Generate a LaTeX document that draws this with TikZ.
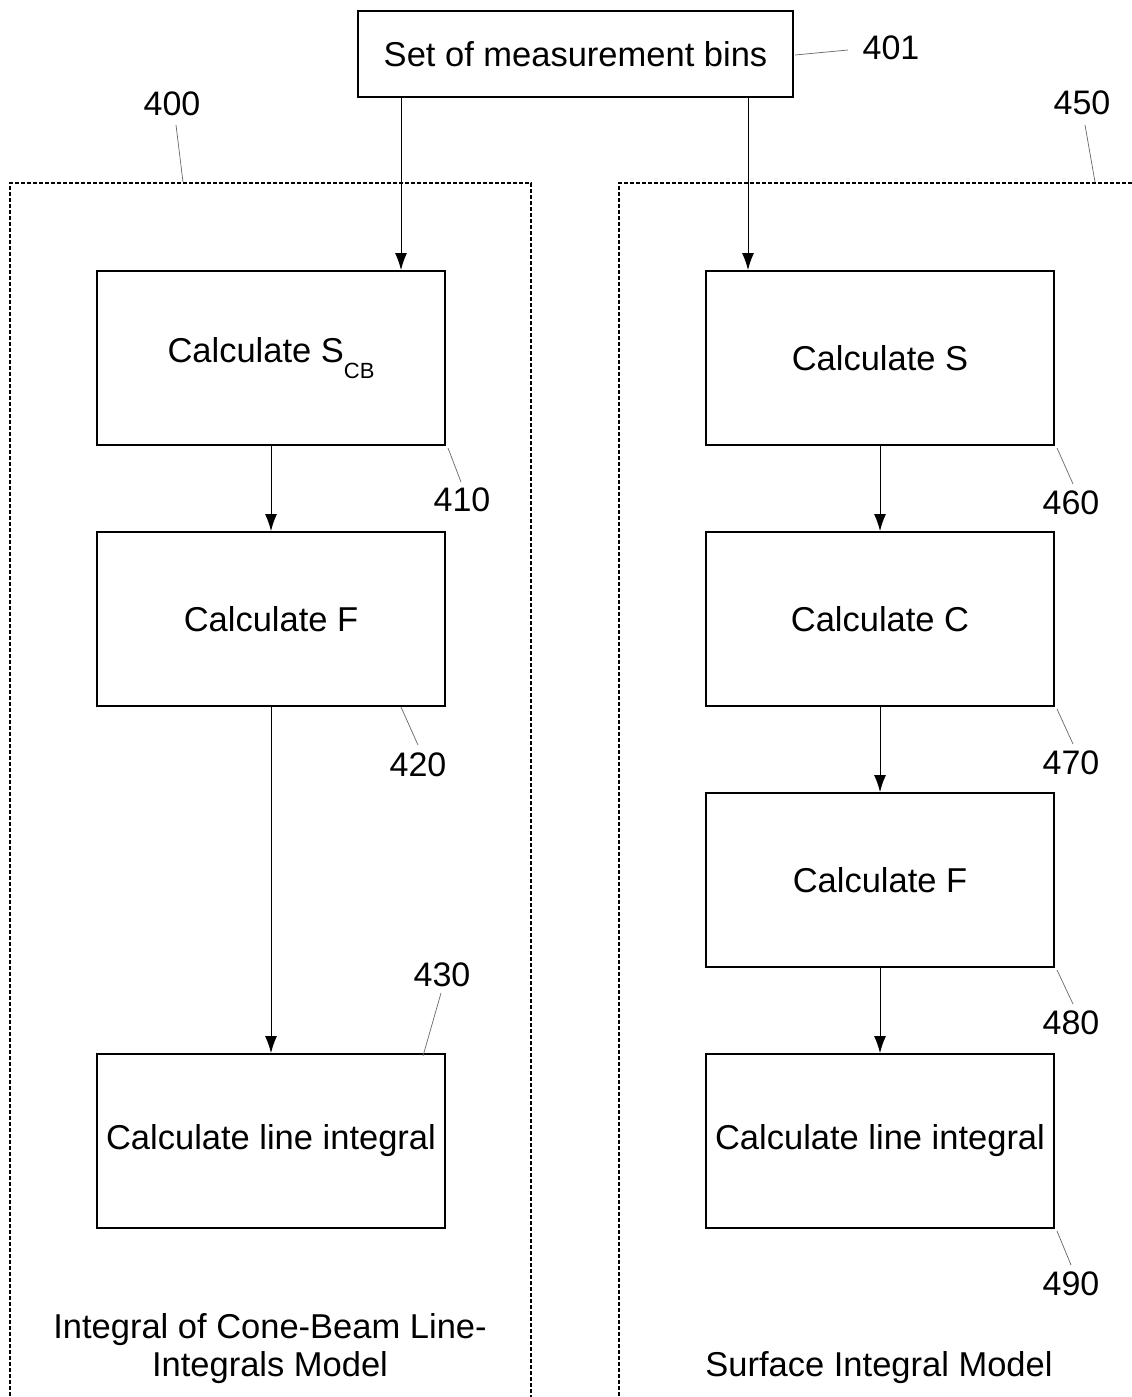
\documentclass[tikz,border=0pt]{standalone}
\usepackage{fontspec}
\setmainfont{Liberation Sans}
\usetikzlibrary{arrows.meta}
\begin{document}
\begin{tikzpicture}[x=1pt,y=-1pt,
  box/.style={draw,line width=2pt,minimum width=348pt,minimum height=174pt,anchor=north west,inner sep=0pt,font=\fontsize{34.5}{41}\selectfont},
  lbl/.style={font=\fontsize{34}{40}\selectfont,inner sep=0pt},
  flow/.style={line width=0.9pt,-{Latex[length=17pt,width=12pt]}},
  leader/.style={line width=0.7pt,draw=black!60},
  grp/.style={line width=1.8pt,dash pattern=on 4pt off 2pt}]
\useasboundingbox (0,0) rectangle (1132,1397);
\clip (0,0) rectangle (1132,1397);
\node[draw,line width=2pt,anchor=north west,minimum width=435pt,minimum height=86pt,inner sep=0pt,font=\fontsize{34.5}{41}\selectfont] (top) at (357,10) {Set of measurement bins};
% group boxes
\draw[grp] (10,1420) -- (10,183) -- (531,183) -- (531,1420);
\draw[grp] (619,1420) -- (619,183) -- (1150,183);
% left column
\node[box] (b410) at (96,270) {Calculate S\raisebox{-0.45em}{\fontsize{22}{22}\selectfont CB}};
\node[box] (b420) at (96,531) {Calculate F};
\node[box] (b430) at (96,1053) {Calculate line integral};
% right column
\node[box] (b460) at (705,270) {Calculate S};
\node[box] (b470) at (705,531) {Calculate C};
\node[box] (b480) at (705,792) {Calculate F};
\node[box] (b490) at (705,1053) {Calculate line integral};
% arrows
\coordinate (tl) at (401,97);
\coordinate (tr) at (748,97);
\draw[flow] (tl) -- (tl |- b410.north);
\draw[flow] (tr) -- (tr |- b460.north);
\draw[flow] (b410) -- (b420);
\draw[flow] (b420) -- (b430);
\draw[flow] (b460) -- (b470);
\draw[flow] (b470) -- (b480);
\draw[flow] (b480) -- (b490);
% labels
\node[lbl] (l401) at (891,48) {401};
\node[lbl] (l400) at (172,104) {400};
\node[lbl] (l450) at (1082,103) {450};
\node[lbl] (l410) at (462,500) {410};
\node[lbl] (l420) at (418,765) {420};
\node[lbl] (l430) at (442,975) {430};
\node[lbl] (l460) at (1071,503) {460};
\node[lbl] (l470) at (1071,763) {470};
\node[lbl] (l480) at (1071,1023) {480};
\node[lbl] (l490) at (1071,1284) {490};
% leaders
\coordinate (c401) at (848,50);
\draw[leader] (795,55) -- (c401);
\coordinate (c400) at (176,125);
\draw[leader] (c400) -- (183,182);
\coordinate (c450) at (1085,125);
\draw[leader] (c450) -- (1095,182);
\coordinate (c410) at (461,482);
\draw[leader] (b410.south east) ++(2,2) -- (c410);
\coordinate (c420) at (418,745);
\draw[leader] (401,707) -- (c420);
\coordinate (c430) at (441,993);
\draw[leader] (c430) -- (423,1056);
\coordinate (c460) at (1073,484);
\draw[leader] (b460.south east) ++(2,2) -- (c460);
\coordinate (c470) at (1073,744);
\draw[leader] (b470.south east) ++(2,2) -- (c470);
\coordinate (c480) at (1073,1004);
\draw[leader] (b480.south east) ++(2,2) -- (c480);
\coordinate (c490) at (1071,1265);
\draw[leader] (b490.south east) ++(2,2) -- (c490);
% group titles
\node[lbl,align=center,font=\fontsize{34.5}{38}\selectfont] (t400) at (270,1349) {Integral of Cone-Beam Line-\\Integrals Model};
\node[lbl,font=\fontsize{34.5}{41}\selectfont] (t450) at (879,1368) {Surface Integral Model};
\end{tikzpicture}
\end{document}
